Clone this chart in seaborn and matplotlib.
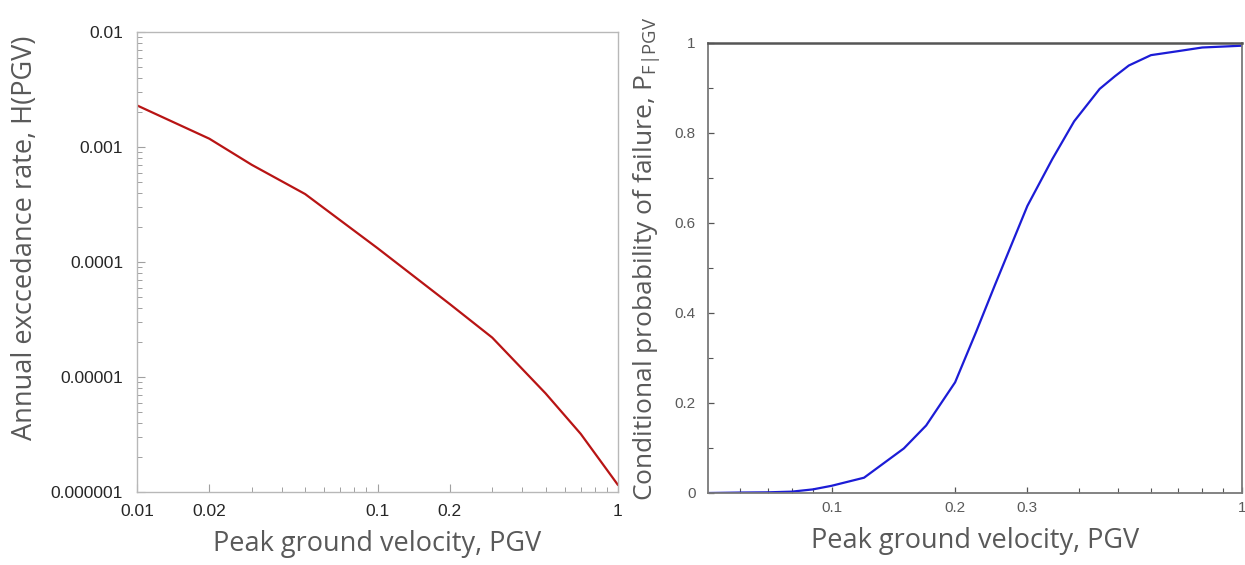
import numpy as np
import pandas as pd
import matplotlib
matplotlib.use("Agg")
import matplotlib.pyplot as plt
import matplotlib.ticker as mticker
import seaborn as sns

# ---- data ----
pgv_hazard = [0.01, 0.02, 0.03, 0.05, 0.1, 0.2, 0.3, 0.5, 0.7, 1.0]
hazard_rate = [2.3e-3, 1.18e-3, 7.0e-4, 3.9e-4, 1.32e-4, 4.3e-5, 2.2e-5, 7.2e-6, 3.2e-6, 1.15e-6]

pgv_frag = [0.05, 0.06, 0.07, 0.08, 0.09, 0.1, 0.12, 0.15, 0.17, 0.2, 0.225, 0.25,
            0.3, 0.345, 0.39, 0.45, 0.49, 0.53, 0.6, 0.7, 0.8, 1.0]
p_fail = [0.0, 0.001, 0.0015, 0.003, 0.008, 0.016, 0.034, 0.099, 0.15, 0.246, 0.358, 0.462,
          0.638, 0.742, 0.826, 0.898, 0.926, 0.95, 0.973, 0.982, 0.99, 0.994]

left_xticks = [0.01, 0.02, 0.1, 0.2, 1]
left_xlabels = ["0.01", "0.02", "0.1", "0.2", "1"]
left_yticks = [1e-6, 1e-5, 1e-4, 1e-3, 1e-2]
left_ylabels = ["0.000001", "0.00001", "0.0001", "0.001", "0.01"]
right_xticks = [0.1, 0.2, 0.3, 1]
right_xlabels = ["0.1", "0.2", "0.3", "1"]
right_yticks = [0, 0.2, 0.4, 0.6, 0.8, 1]
right_ylabels = ["0", "0.2", "0.4", "0.6", "0.8", "1"]

sns.set_style("white")
plt.rcParams['font.family'] = ['Open Sans', 'DejaVu Sans']
plt.rcParams['mathtext.default'] = 'regular'

W, H = 1245, 565
fig = plt.figure(figsize=(W / 100, H / 100), dpi=100)

def px_axes(l, r, t, b):
    return fig.add_axes([l / W, (H - b) / H, (r - l) / W, (b - t) / H])

label_color = "#595959"
label_size = 19.5

# ---- left panel ----
ax1 = px_axes(137, 618, 32, 492)
df1 = pd.DataFrame({"pgv": pgv_hazard, "rate": hazard_rate})
sns.lineplot(data=df1, x="pgv", y="rate", ax=ax1, color="#b81414", linewidth=1.6)
ax1.set_xscale("log")
ax1.set_yscale("log")
ax1.set_xlim(0.01, 1)
ax1.set_ylim(1e-6, 1e-2)
ax1.xaxis.set_major_locator(mticker.FixedLocator(left_xticks))
ax1.xaxis.set_major_formatter(mticker.FixedFormatter(left_xlabels))
minor_x1 = [v * 10.0 ** d for d in (-2, -1) for v in range(3, 10)]
ax1.xaxis.set_minor_locator(mticker.FixedLocator(minor_x1))
ax1.xaxis.set_minor_formatter(mticker.NullFormatter())
ax1.yaxis.set_major_locator(mticker.FixedLocator(left_yticks))
ax1.yaxis.set_major_formatter(mticker.FixedFormatter(left_ylabels))
ax1.yaxis.set_minor_locator(mticker.LogLocator(base=10, subs=range(2, 10)))
ax1.yaxis.set_minor_formatter(mticker.NullFormatter())
for s in ax1.spines.values():
    s.set_color("#b8b8b8")
    s.set_linewidth(1.0)
ax1.tick_params(which="both", bottom=True, left=True, top=False, right=False)
ax1.tick_params(which="major", direction="in", length=6, width=0.8, color="#a0a0a0",
                labelsize=12.5, labelcolor="#262626", pad=9)
ax1.tick_params(which="minor", direction="in", length=3.5, width=0.7, color="#a0a0a0")
for lab in ax1.get_xticklabels() + ax1.get_yticklabels():
    lab.set_family(["Liberation Sans", "DejaVu Sans"])
ax1.tick_params(axis="y", pad=10)
ax1.set_xlabel("Peak ground velocity, PGV", fontsize=label_size, color=label_color)
ax1.set_ylabel("Annual exccedance rate, H(PGV)", fontsize=label_size, color=label_color)
ax1.xaxis.set_label_coords(0.5, -0.082)
ax1.yaxis.set_label_coords(-0.204, 0.552)

# ---- right panel ----
ax2 = px_axes(708, 1242, 43, 493)
df2 = pd.DataFrame({"pgv": pgv_frag, "pf": p_fail})
sns.lineplot(data=df2, x="pgv", y="pf", ax=ax2, color="#1c1cd6", linewidth=1.6)
ax2.set_xscale("log")
ax2.set_xlim(0.05, 1)
ax2.set_ylim(0, 1)
ax2.xaxis.set_major_locator(mticker.FixedLocator(right_xticks))
ax2.xaxis.set_major_formatter(mticker.FixedFormatter(right_xlabels))
minor_x2 = [0.06, 0.07, 0.08, 0.09, 0.4, 0.5, 0.6, 0.7, 0.8, 0.9]
ax2.xaxis.set_minor_locator(mticker.FixedLocator(minor_x2))
ax2.xaxis.set_minor_formatter(mticker.NullFormatter())
ax2.yaxis.set_major_locator(mticker.FixedLocator(right_yticks))
ax2.yaxis.set_major_formatter(mticker.FixedFormatter(right_ylabels))
ax2.yaxis.set_minor_locator(mticker.FixedLocator([0.1, 0.3, 0.5, 0.7, 0.9]))
for s in ax2.spines.values():
    s.set_color("#7a7a7a")
    s.set_linewidth(1.3)
ax2.spines["top"].set_color("#555555")
ax2.spines["top"].set_linewidth(1.8)
ax2.tick_params(which="both", bottom=True, left=True, top=False, right=False)
ax2.tick_params(which="major", direction="in", length=4.5, width=0.9, color="#555555",
                labelsize=11, labelcolor="#5a5a5a", pad=6)
ax2.tick_params(which="minor", direction="in", length=3.5, width=0.8, color="#555555")
ax2.tick_params(axis="y", pad=9)
for lab in ax2.get_xticklabels() + ax2.get_yticklabels():
    lab.set_family(["Liberation Sans Narrow", "Liberation Sans", "DejaVu Sans"])
ax2.set_xlabel("Peak ground velocity, PGV", fontsize=label_size, color=label_color)
ax2.set_ylabel("Conditional probability of failure, P$_{F|PGV}$", fontsize=19,
               color=label_color)
ax2.xaxis.set_label_coords(0.5, -0.0756)
ax2.yaxis.set_label_coords(-0.086, 0.519)

fig.savefig("out.png", dpi=100)
